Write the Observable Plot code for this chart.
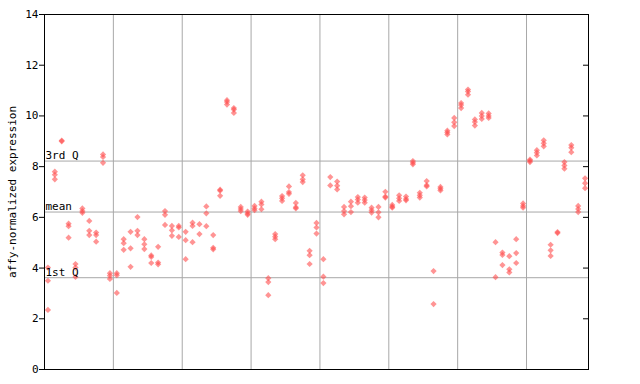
<!DOCTYPE html>
<html><head><meta charset="utf-8">
<script src="https://cdn.jsdelivr.net/npm/d3@7"></script>
<script src="https://cdn.jsdelivr.net/npm/@observablehq/plot@0.6"></script>
<style>
html,body{margin:0;padding:0;background:#fff;}
#chart svg{display:block;}
</style>
</head><body><div id="chart"></div>
<script>
// replicate values for each sample, grouped by the vertical separators
const group1 = [[4.02,3.5,2.35],[7.8,7.68,7.5],[9.03,9.0],[5.75,5.65,5.2],[4.16,4.02,3.65],[6.35,6.25,6.18],[5.86,5.47,5.3],[5.4,5.3,5.04],[8.48,8.38,8.15],[3.8,3.7,3.57]];
const group2 = [[3.8,3.72,3.02],[5.14,4.98,4.72],[5.43,4.78,4.05],[6.01,5.47,5.3],[5.14,4.94,4.75],[4.5,4.44,4.2],[4.84,4.22,4.15],[6.25,6.1,5.7],[5.66,5.49,5.27],[5.66,5.6,5.23]];
const group3 = [[5.43,5.1,4.35],[5.79,5.66,5.02],[5.73,5.34],[6.43,6.16,5.65],[5.3,4.8,4.74],[7.09,7.05,6.85],[10.62,10.55,10.45],[10.31,10.25,10.12],[6.41,6.33,6.25],[6.23,6.15,6.1]];
const group4 = [[6.45,6.35,6.28],[6.62,6.51,6.32],[3.6,3.45,2.93],[5.34,5.24,5.14],[6.84,6.75,6.65],[7.22,7.0,6.93],[6.57,6.4,6.35],[7.66,7.5,7.39],[4.68,4.51,4.16],[5.78,5.6,5.36]];
const group5 = [[4.35,3.66,3.41],[7.59,7.26],[7.41,7.25,7.1],[6.41,6.25,6.12],[6.62,6.44,6.21],[6.8,6.7,6.58],[6.78,6.68,6.58],[6.38,6.28,6.19],[6.41,6.2,6.0],[7.01,6.82,6.78]];
const group6 = [[6.49,6.42,6.38],[6.87,6.75,6.65],[6.82,6.72,6.67],[8.22,8.15,8.09],[6.97,6.87,6.78],[7.43,7.27,7.22],[3.88,2.58],[7.2,7.13,7.06],[9.42,9.35,9.27],[9.92,9.75,9.6]];
const group7 = [[10.51,10.43,10.31],[11.04,10.96,10.84],[9.86,9.76,9.62],[10.12,10.0,9.88],[10.1,10.0,9.92],[5.02,3.64],[4.61,4.52,4.12],[4.47,3.95,3.83],[5.14,4.59,4.2],[6.55,6.45,6.38]];
const group8 = [[8.28,8.23,8.18],[8.65,8.55,8.44],[9.04,8.92,8.8],[4.92,4.7,4.48],[5.42,5.38],[8.18,8.05,7.92],[8.85,8.75,8.57],[6.45,6.33,6.21],[7.54,7.35,7.15]];
const groups = [group1, group2, group3, group4, group5, group6, group7, group8];

const quartileValues = [3.62, 6.21, 8.22];
const quartileLabels = ["1st Q", "mean", "3rd Q"];
const yTicks = [0, 2, 4, 6, 8, 10, 12, 14];
const yLabel = "affy-normalized expression";

const rows = [];
const bounds = [];
let idx = 0;
groups.forEach((g, gi) => {
  g.forEach(sample => { sample.forEach(v => rows.push({i: idx, v})); idx++; });
  if (gi < groups.length - 1) bounds.push(idx - 0.5);
});
const nSamples = idx;

const plot = Plot.plot({
  width: 640, height: 384,
  marginLeft: 44, marginRight: 52, marginTop: 14, marginBottom: 15,
  style: {fontFamily: "'DejaVu Sans Mono', monospace", fontSize: "11px", background: "white", color: "black", overflow: "visible"},
  x: {domain: [-0.5, nSamples - 0.5], axis: null},
  y: {domain: [0, 14], axis: null},
  marks: [
    Plot.ruleX(bounds, {stroke: "#a8a8a8", strokeWidth: 1}),
    Plot.ruleY(quartileValues, {stroke: "#a8a8a8", strokeWidth: 1}),
    Plot.dot(rows, {x: "i", y: "v", symbol: "diamond2", r: 2.8, fill: "#ff4d4d", fillOpacity: 0.6, stroke: null}),
    Plot.text(quartileValues, {y: d => d, text: (d, i) => quartileLabels[i], frameAnchor: "left", textAnchor: "start", lineAnchor: "bottom", dx: 1, dy: -2, fill: "black"}),
    Plot.axisY(yTicks, {anchor: "left", tickSize: 5, tickPadding: 1, label: null, tickFormat: d => String(d)}),
    Plot.tickY(yTicks, {y: d => d, stroke: "black", insetLeft: 539}),
    Plot.frame({stroke: "black", strokeWidth: 1}),
    Plot.text([yLabel], {text: d => d, frameAnchor: "left", rotate: -90, dx: -32, textAnchor: "middle", lineAnchor: "middle", fill: "black"})
  ]
});
document.getElementById("chart").appendChild(plot);
</script>
</body></html>
